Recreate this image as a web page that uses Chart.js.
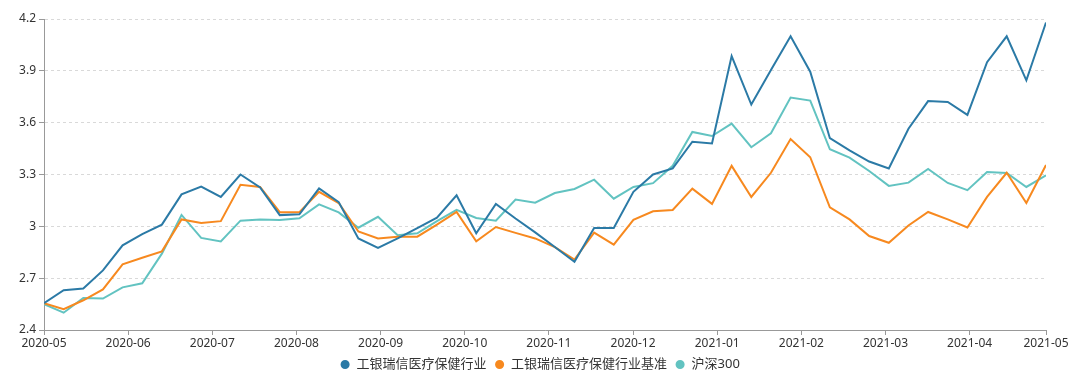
<!DOCTYPE html>
<html>
<head>
<meta charset="utf-8">
<script src="https://cdn.jsdelivr.net/npm/chart.js@4/dist/chart.umd.min.js"></script>
<style>
  html, body { margin: 0; padding: 0; background: #fff; }
  #wrap { width: 1080px; height: 375px; }
</style>
</head>
<body>
<div id="wrap"><canvas id="c" width="1080" height="375"></canvas></div>
<script>
// ---- data ----
const seriesNames = ['工银瑞信医疗保健行业', '工银瑞信医疗保健行业基准', '沪深300'];
const tickLabels = ['2020-05','2020-06','2020-07','2020-08','2020-09','2020-10','2020-11','2020-12','2021-01','2021-02','2021-03','2021-04','2021-05'];
const yTicks = [2.4, 2.7, 3.0, 3.3, 3.6, 3.9, 4.2];

const fundValues = [
  2.555, 2.63, 2.64, 2.745, 2.89, 2.955, 3.01, 3.185, 3.23, 3.17,
  3.30, 3.225, 3.065, 3.07, 3.22, 3.14, 2.93, 2.875, 2.93, 2.99,
  3.05, 3.18, 2.96, 3.13, 3.045, 2.965, 2.88, 2.795, 2.99, 2.99,
  3.20, 3.30, 3.335, 3.49, 3.48, 3.985, 3.705, 3.905, 4.10, 3.895,
  3.51, 3.44, 3.375, 3.335, 3.565, 3.725, 3.72, 3.645, 3.95, 4.10,
  3.845, 4.18
];
const benchValues = [
  2.555, 2.52, 2.572, 2.635, 2.78, 2.818, 2.855, 3.04, 3.02, 3.03,
  3.24, 3.228, 3.082, 3.082, 3.20, 3.135, 2.97, 2.93, 2.94, 2.94,
  3.01, 3.083, 2.913, 2.996, 2.962, 2.93, 2.88, 2.808, 2.964, 2.894,
  3.037, 3.087, 3.095, 3.218, 3.13, 3.35, 3.17, 3.31, 3.505, 3.40,
  3.11, 3.04, 2.944, 2.905, 3.005, 3.083, 3.04, 2.993, 3.17, 3.31,
  3.135, 3.355
];
const hs300Values = [
  2.55, 2.50, 2.585, 2.582, 2.647, 2.67, 2.842, 3.066, 2.933, 2.912,
  3.033, 3.04, 3.037, 3.047, 3.127, 3.081, 2.992, 3.055, 2.948, 2.96,
  3.03, 3.095, 3.048, 3.033, 3.155, 3.137, 3.193, 3.216, 3.27, 3.16,
  3.228, 3.25, 3.35, 3.546, 3.523, 3.595, 3.458, 3.539, 3.745, 3.728,
  3.446, 3.398, 3.32, 3.234, 3.253, 3.332, 3.251, 3.209, 3.315, 3.309,
  3.228, 3.295
];

// ---- layout / style ----
const MONTH_STEP = 4.283;   // points per month label on the axis
const colors = ['#2b7aa6', '#f7891f', '#62c3c1'];
const FONT = "'Noto Sans', 'Noto Sans CJK SC', sans-serif";
const lastIndex = fundValues.length - 1;

const toPoints = arr => arr.map((v, i) => ({ x: i, y: v }));
const allSeries = [fundValues, benchValues, hs300Values];

const datasets = allSeries.map((arr, k) => ({
  label: seriesNames[k],
  data: toPoints(arr),
  borderColor: colors[k],
  backgroundColor: colors[k],
  borderWidth: 2,
  pointRadius: 0,
  pointHoverRadius: 0,
  tension: 0,
  fill: false
}));

new Chart(document.getElementById('c'), {
  type: 'line',
  data: { datasets },
  options: {
    responsive: false,
    animation: false,
    devicePixelRatio: 1,
    layout: { padding: { left: 0, right: 0, top: 19, bottom: -6 } },
    plugins: {
      tooltip: { enabled: false },
      legend: {
        position: 'bottom',
        labels: {
          usePointStyle: true,
          pointStyle: 'circle',
          boxWidth: 10,
          boxHeight: 5,
          padding: 8,
          color: '#333',
          font: { family: FONT, size: 13 }
        }
      }
    },
    scales: {
      x: {
        type: 'linear',
        min: 0,
        max: lastIndex,
        afterFit: s => { s.height = 20; },
        afterBuildTicks: s => {
          s.ticks = tickLabels.map((l, k) => ({ value: Math.min(k * MONTH_STEP, lastIndex) }));
        },
        ticks: {
          autoSkip: false,
          maxRotation: 0,
          padding: 1,
          color: '#333',
          font: { family: FONT, size: 12 },
          callback: (v, i) => tickLabels[i]
        },
        grid: { display: true, drawOnChartArea: false, drawTicks: true, tickLength: 5, color: '#999' },
        border: { display: true, color: '#999', width: 1 }
      },
      y: {
        min: yTicks[0],
        max: yTicks[yTicks.length - 1],
        afterFit: s => { s.width = 44; },
        afterBuildTicks: s => { s.ticks = yTicks.map(v => ({ value: v })); },
        ticks: {
          padding: 3,
          color: '#333',
          font: { family: FONT, size: 12 },
          callback: v => String(Number(v.toFixed(1)))
        },
        grid: {
          color: '#d9d9d9',
          tickColor: '#999',
          tickLength: 5,
          drawTicks: true
        },
        border: { display: true, color: '#999', width: 1, dash: [3, 3] }
      },
      yRightSpace: {
        position: 'right',
        min: yTicks[0],
        max: yTicks[yTicks.length - 1],
        afterFit: s => { s.width = 34; },
        ticks: { display: false },
        grid: { display: false, drawTicks: false },
        border: { display: false }
      }
    }
  }
});
</script>
</body>
</html>
